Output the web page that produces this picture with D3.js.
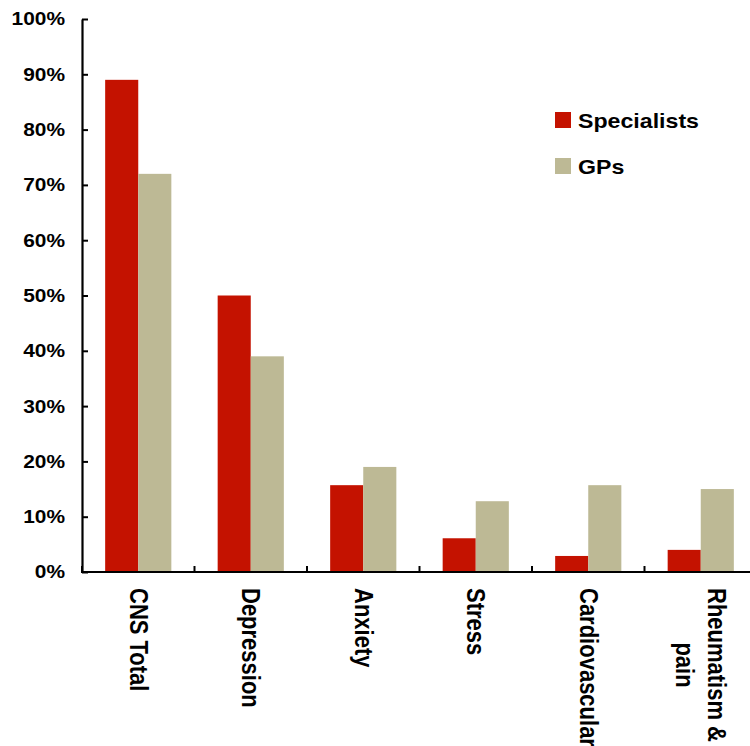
<!DOCTYPE html>
<html>
  <head>
    <title>Specialists vs GPs</title>
    <script src="https://cdn.jsdelivr.net/npm/d3@7/dist/d3.min.js"></script>
    <style>
      body { margin: 0; background: #fff; }
      #chart text {
        font-family: "Liberation Sans", Arial, sans-serif;
        font-weight: bold;
        fill: #000;
      }
    </style>
  </head>
  <body>
    <svg id="chart" width="750" height="746"></svg>
  </body>
  <script>
    // data
    const categories = ["CNS Total", "Depression", "Anxiety", "Stress", "Cardiovascular", "Rheumatism &\npain"];
    const seriesNames = ["Specialists", "GPs"];
    const specialists = [89, 50, 15.7, 6.1, 2.9, 4];
    const gps = [72, 39, 19, 12.8, 15.7, 15];
    const yTicks = [0, 10, 20, 30, 40, 50, 60, 70, 80, 90, 100];

    const colors = { Specialists: "#c41200", GPs: "#bdb995" };
    const stretch = 1.13; // original picture is a bit wider than tall

    const svg = d3.select("#chart");
    const plotLeft = 82, plotRight = 757, plotTop = 19, plotBottom = 572;

    const x = d3.scaleBand().domain(categories).range([plotLeft, plotRight]).padding(0);
    const x1 = d3.scaleBand().domain(seriesNames).range([0, x.bandwidth()]).paddingInner(0).paddingOuter(0.7);
    const y = d3.scaleLinear().domain([0, 100]).range([plotBottom, plotTop]);

    const rows = categories.map((c, i) => ({ cat: c, Specialists: specialists[i], GPs: gps[i] }));

    // bars
    const groups = svg.append("g").selectAll("g")
      .data(rows)
      .join("g")
      .attr("transform", d => `translate(${x(d.cat)},0)`);

    groups.selectAll("rect")
      .data(d => seriesNames.map(s => ({ s, v: d[s] })))
      .join("rect")
      .attr("x", d => x1(d.s))
      .attr("width", x1.bandwidth())
      .attr("y", d => y(d.v))
      .attr("height", d => y(0) - y(d.v))
      .attr("fill", d => colors[d.s]);

    // y axis, ticks pointing inward
    const yAxis = svg.append("g")
      .attr("transform", `translate(${plotLeft},0)`)
      .call(d3.axisLeft(y).tickValues(yTicks).tickSizeInner(-6).tickSizeOuter(0).tickPadding(17).tickFormat(d => d + "%"));
    yAxis.select(".domain").attr("stroke", "#000").attr("stroke-width", 2.2);
    yAxis.selectAll(".tick line").attr("stroke", "#000").attr("stroke-width", 2);
    yAxis.selectAll(".tick text")
      .attr("font-size", 18.5)
      .attr("x", -17 / stretch)
      .attr("transform", `scale(${stretch},1)`);

    // x axis line and category dividers
    svg.append("line")
      .attr("x1", plotLeft - 1).attr("x2", 750)
      .attr("y1", plotBottom).attr("y2", plotBottom)
      .attr("stroke", "#000").attr("stroke-width", 2.2);

    svg.append("g").selectAll("line")
      .data(categories)
      .join("line")
      .attr("x1", d => x(d)).attr("x2", d => x(d))
      .attr("y1", plotBottom).attr("y2", plotBottom - 6)
      .attr("stroke", "#000").attr("stroke-width", 2);

    // rotated category labels
    const fs = 22, lineH = 1.3 * fs;
    categories.forEach(c => {
      const lines = c.split("\n");
      const t = svg.append("text")
        .attr("font-size", fs)
        .attr("transform", `translate(${x(c) + x.bandwidth() / 2},588) scale(${stretch},1) rotate(90)`);
      const spans = lines.map((ln, i) => t.append("tspan")
        .attr("x", 0)
        .attr("y", (i - (lines.length - 1) / 2) * lineH + 0.35 * fs)
        .text(ln));
      const widths = spans.map(s => s.node().getComputedTextLength());
      const maxW = d3.max(widths);
      spans.forEach((s, i) => s.attr("x", (maxW - widths[i]) / 2));
    });

    // legend
    const legend = svg.append("g").selectAll("g")
      .data(seriesNames)
      .join("g")
      .attr("transform", (d, i) => `translate(555,${112 + i * 46})`);
    legend.append("rect")
      .attr("width", 16).attr("height", 16)
      .attr("fill", d => colors[d]);
    legend.append("text")
      .attr("font-size", 20.5)
      .attr("transform", `translate(23,15.5) scale(${stretch},1)`)
      .text(d => d);
  </script>
</html>
